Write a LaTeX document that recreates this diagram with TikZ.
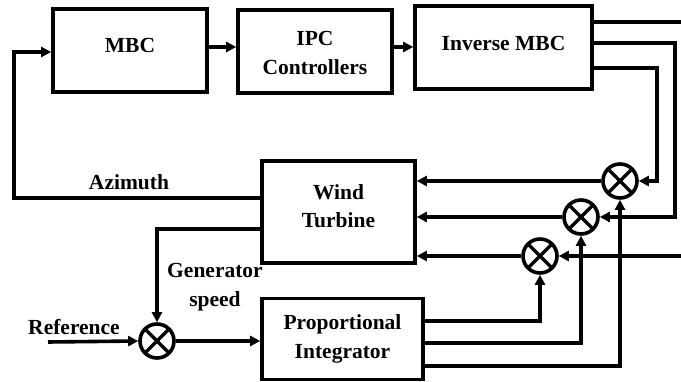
\documentclass[tikz,border=0pt]{standalone}
\usepackage{fontspec}
\setmainfont{Liberation Serif}
\usetikzlibrary{arrows.meta,calc}
\begin{document}
\begin{tikzpicture}[x=1pt,y=-1pt,
  lw/.style={line width=3.6pt},
  blockbox/.style={draw,lw,rectangle,inner sep=0pt},
  sumnode/.style={draw,lw,circle,inner sep=0pt,minimum size=34pt,
    path picture={\draw[line width=3.2pt] (path picture bounding box.south west) -- (path picture bounding box.north east)
      (path picture bounding box.north west) -- (path picture bounding box.south east);}},
  txt/.style={font=\fontsize{21.5}{28.5}\selectfont\bfseries,align=center,inner sep=0pt},
  arr/.style={lw,-{Triangle[length=10pt,width=10pt]}},
  ln/.style={lw}]
\useasboundingbox (0,0) rectangle (681,382);
% blocks
\node[blockbox,minimum width=154pt,minimum height=83pt] (mbc) at (130,50.5) {};
\node[blockbox,minimum width=154pt,minimum height=83pt] (ipc) at (315,51.5) {};
\node[blockbox,minimum width=177pt,minimum height=83pt] (imbc) at (503.5,47.5) {};
\node[blockbox,minimum width=153pt,minimum height=102pt] (wt) at (338.5,212) {};
\node[blockbox,minimum width=161pt,minimum height=81pt] (pi) at (342.5,339) {};
% texts
\node[txt] (tmbc) at (130,45) {MBC};
\node[txt] (tipc) at (315,53) {IPC\\Controllers};
\node[txt] (timbc) at (503.5,43) {Inverse MBC};
\node[txt] (twt) at (338.5,206) {Wind\\Turbine};
\node[txt] (tpi) at (342.5,339) {Proportional\\Integrator};
\node[txt] (taz) at (129,182) {Azimuth};
\node[txt] (tgen) at (215,287) {Generator\\speed};
\node[txt] (tref) at (74,327) {Reference};
% summing junctions
\node[sumnode] (s0) at (157,341) {};
\node[sumnode] (c1) at (620,181) {};
\node[sumnode] (c2) at (581,217) {};
\node[sumnode] (c3) at (540,256) {};
% free ends
\coordinate (top) at (681,22);
\coordinate (rin) at (681,256);
\coordinate (refin) at (48,342);
\coordinate (k1) at (14,198);
\coordinate (k2) at (14,52);
% top row
\draw[arr] (mbc.east |- 0,47) -- (ipc.west |- 0,47);
\draw[arr] (ipc.east |- 0,47) -- (imbc.west |- 0,47);
% inverse MBC outputs
\draw[ln] (imbc.east |- top) -- (top);
\draw[arr] (imbc.east |- 0,43) -- (675,43) -- (675,217) -- (c2.east);
\draw[arr] (imbc.east |- 0,68) -- (657,68) -- (657,181) -- (c1.east);
\draw[arr] (rin) -- (c3.east);
% junctions to wind turbine
\draw[arr] (c1.west) -- (wt.east |- c1);
\draw[arr] (c2.west) -- (wt.east |- c2);
\draw[arr] (c3.west) -- (wt.east |- c3);
% PI outputs
\draw[arr] (pi.east |- 0,321) -| (c3.south);
\draw[arr] (pi.east |- 0,343) -| (c2.south);
\draw[arr] (pi.east |- 0,366) -| (c1.south);
% azimuth feedback
\draw[arr] (wt.west |- k1) -- (k1) -- (k2) -- (mbc.west |- k2);
% generator speed
\draw[arr] (wt.west |- 0,229) -| (s0.north);
\draw[arr] (refin) -- (s0.west);
\draw[arr] (s0.east) -- (pi.west |- s0);
\end{tikzpicture}
\end{document}
